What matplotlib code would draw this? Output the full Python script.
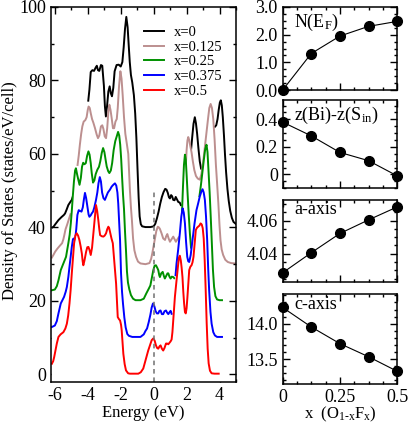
import numpy as np
from matplotlib import pyplot as plt
from matplotlib.ticker import MultipleLocator

nan = np.nan

# ---- DOS curves, nan = hidden segment ----
e_x0 = [-6.15, -6.08, -5.95, -5.78, -5.6, -5.45, -5.38, -5.28, -5.18, -5.05, -4.97, -4.88, nan,
        -3.97, -3.9, -3.82, -3.72, -3.62, -3.52, -3.45, -3.38, -3.3, -3.2, -3.12, -3.02, -2.96, -2.9,
        -2.83, -2.75, -2.67, -2.6, -2.53, -2.45, -2.37, -2.25, -2.12, -2.0, -1.9, -1.82, -1.74, -1.66,
        -1.58, -1.52, -1.45, -1.38, -1.3, -1.2, -1.12, -1.05, -0.98, -0.91, -0.85, -0.78, -0.7, -0.5,
        -0.2, 0.0, 0.1, 0.2, 0.3, 0.4, 0.5, 0.6, 0.7, 0.78, 0.86, 0.93, 0.99, 1.06, 1.12, 1.19, 1.27,
        1.34, 1.42, 1.5, 1.58, 1.65, nan,
        2.2, 2.27, 2.34, 2.42, 2.5, 2.57, 2.64, 2.72, 2.8, 2.88, 2.95, 3.05, nan,
        3.72, 3.8, 3.88, 3.95, 4.02, 4.08, 4.14, 4.2, 4.27, 4.33, 4.4, 4.48, 4.56, 4.65, 4.75, 4.85, 4.98]
dos_x0 = [40.0, 40.2, 41.0, 42.0, 42.8, 43.4, 43.8, 44.9, 46.1, 47.0, 47.5, 48.8, nan,
          74.5, 77.5, 82.3, 82.8, 82.6, 83.5, 84.0, 82.8, 82.6, 84.2, 84.0, 78.5, 73.0, 70.2,
          73.0, 77.0, 78.4, 76.5, 75.7, 78.0, 82.5, 84.2, 84.3, 83.8, 85.0, 89.0, 94.0, 97.3,
          94.5, 90.0, 85.0, 81.5, 79.5, 76.0, 71.0, 64.5, 56.0, 48.0, 43.0, 40.9, 40.3, 40.1,
          40.1, 40.3, 41.0, 42.5, 44.3, 46.5, 48.3, 49.6, 50.5, 50.3, 49.4, 48.2, 47.9, 48.8, 48.5, 47.5, 47.4,
          48.3, 47.6, 46.9, 46.8, 46.1, nan,
          57.0, 61.0, 64.5, 68.2, 70.0, 68.3, 65.5, 61.5, 58.0, 56.0, 55.6, 56.5, nan,
          67.4, 67.8, 69.5, 72.0, 74.0, 74.6, 73.2, 70.0, 65.0, 60.0, 55.0, 50.5, 47.2, 44.5, 42.6, 41.5, 41.0]

e_x0125 = [-6.18, -6.1, -5.98, -5.85, -5.7, -5.56, -5.48, -5.42, -5.35, -5.25, -5.15, -5.05, nan,
           -4.62, -4.55, -4.48, -4.4, -4.33, -4.25, -4.15, -4.07, -4.0, -3.95, -3.88, -3.82, -3.74, -3.66,
           -3.56, -3.46, -3.38, -3.3, -3.2, -3.12, -3.05, -2.97, -2.89, -2.82, -2.75, -2.69, -2.62, -2.55,
           -2.47, -2.4, -2.32, -2.24, -2.18, -2.1, -2.02, -1.95, -1.88, -1.8, -1.72, -1.62, -1.54, -1.49,
           -1.44, -1.38, -1.32, -1.25, -1.17, -1.07, -0.95, -0.8, -0.5, -0.25, -0.15, -0.08, 0.0, 0.08,
           0.16, 0.25, 0.32, 0.38, 0.48, 0.58, 0.69, 0.76, 0.83, 0.91, 0.99, 1.09, 1.19, 1.27, 1.35, 1.45,
           1.52, nan,
           1.96, 2.0, 2.05, 2.1, 2.16, 2.23, 2.3, 2.38, 2.47, 2.57, 2.68, 2.8, 2.9, 3.0, 3.1, 3.2, 3.3,
           3.38, 3.46, 3.54, 3.62, 3.7, 3.78, 3.86, 3.93, 4.0, 4.06, 4.13, 4.22, 4.35, 4.5, 4.7, 4.95]
dos_x0125 = [31.8, 32.4, 33.4, 34.2, 35.0, 35.7, 36.8, 38.0, 39.5, 40.8, 42.2, 43.6, nan,
             57.0, 59.5, 62.5, 65.5, 67.5, 68.8, 69.2, 70.0, 72.0, 72.9, 72.5, 71.1, 69.5, 68.5,
             67.0, 65.3, 64.3, 65.0, 67.5, 67.8, 66.8, 64.8, 64.3, 67.0, 71.5, 73.4, 72.0, 69.8,
             67.0, 67.0, 68.8, 69.5, 72.5, 78.5, 82.5, 80.5, 76.0, 70.0, 65.5, 62.5, 60.0, 55.0,
             50.0, 45.5, 42.0, 37.0, 33.8, 32.0, 30.7, 30.2, 30.0, 30.3, 31.5, 33.0, 35.0, 37.0,
             39.0, 40.2, 40.0, 39.6, 38.4, 37.0, 36.6, 37.6, 38.2, 37.0, 36.1, 36.8, 37.5, 36.8, 36.1, 36.8,
             37.3, nan,
             57.5, 61.0, 63.6, 64.6, 63.8, 62.0, 60.5, 58.0, 55.6, 54.0, 53.3, 53.0, 54.5, 57.5, 61.5, 65.5, 69.5,
             72.5, 73.6, 72.5, 69.5, 64.0, 57.0, 51.5, 46.5, 40.5, 36.5, 34.0, 32.5, 31.2, 30.6, 30.3, 30.2]

e_x025 = [-6.18, -6.0, -5.88, -5.78, -5.64, -5.48, -5.32, -5.18, -5.1, -5.03, -4.97, -4.91, -4.84,
          -4.77, -4.72, -4.65, -4.57, -4.5, -4.42, -4.35, -4.28, -4.2, -4.12, -4.04, -3.96, -3.89, -3.82,
          -3.76, -3.68, -3.6, -3.52, -3.42, -3.32, -3.24, -3.15, -3.07, -2.99, -2.92, -2.85, -2.76, -2.69,
          -2.6, -2.52, -2.43, -2.33, -2.24, -2.16, -2.09, -2.03, -1.97, -1.92, -1.86, -1.8, -1.74, -1.68,
          -1.62, -1.56, -1.48, -1.38, -1.25, -1.1, -0.8, -0.6, -0.45, -0.3, -0.2, -0.1, -0.02, 0.06, 0.14,
          0.22, 0.28, 0.34, 0.38, 0.46, 0.55, 0.62, 0.68, 0.76, 0.84, 0.89, 0.96, 1.03, 1.1, 1.19, 1.25, nan,
          1.72, 1.78, 1.84, 1.9, 1.95, 2.0, 2.06, 2.13, 2.2, 2.27, nan,
          2.78, 2.87, 2.96, 3.05, 3.13, 3.21, 3.27, 3.33, 3.4, 3.47, 3.54, 3.6, 3.67, 3.75, 3.85, 4.0, 4.15]
dos_x025 = [22.9, 23.1, 24.0, 25.6, 28.4, 30.2, 32.0, 35.7, 38.0, 41.1, 44.5, 48.4, 52.5,
            55.5, 56.1, 54.5, 52.9, 51.6, 53.5, 56.5, 57.6, 57.2, 57.5, 59.5, 60.7, 59.8, 57.5,
            54.8, 52.2, 52.8, 54.5, 55.7, 56.5, 58.0, 60.3, 61.6, 60.5, 58.5, 56.6, 55.3, 54.8,
            55.5, 57.5, 61.0, 63.5, 64.8, 66.0, 65.0, 62.5, 58.5, 54.0, 49.0, 45.0, 39.0, 33.8,
            28.0, 25.0, 23.2, 21.6, 20.6, 20.2, 20.2, 20.6, 22.0, 23.3, 24.2, 26.5, 28.4, 29.6, 29.7,
            29.0, 28.4, 27.0, 26.5, 27.5, 27.9, 26.8, 26.1, 26.8, 27.5, 27.5, 26.6, 26.1, 26.6, 26.5, 26.2, nan,
            44.0, 51.0, 57.0, 59.8, 58.5, 54.5, 49.3, 43.5, 38.4, 34.5, nan,
            48.5, 51.5, 55.0, 58.5, 61.3, 62.5, 60.5, 55.5, 49.5, 42.5, 35.0, 28.5, 23.8, 21.3, 20.4, 20.2, 20.2]

e_x0375 = [-6.18, -6.0, -5.88, -5.78, -5.64, -5.44, -5.34, -5.27, -5.18, -5.11, -5.04, -4.97, -4.9,
           -4.85, -4.77, -4.7, -4.63, -4.55, -4.47, -4.38, -4.3, -4.24, -4.17, -4.1, -4.02, -3.95, -3.9,
           -3.82, -3.76, -3.68, -3.6, -3.5, -3.42, -3.35, -3.27, -3.2, -3.13, -3.05, -2.96, -2.88, -2.78,
           -2.65, -2.55, -2.45, -2.35, -2.27, -2.2, -2.15, -2.1, -2.04, -1.98, -1.92, -1.86, -1.78, -1.7,
           -1.6, -1.5, -1.3, -0.8, -0.6, -0.5, -0.4, -0.3, -0.2, -0.12, -0.04, 0.04, 0.12, 0.2, 0.28, 0.35,
           0.42, 0.5, 0.58, 0.66, 0.75, 0.82, 0.89, 0.96, 1.03, 1.09, nan,
           1.33, 1.39, 1.49, 1.59, 1.68, 1.76, 1.83, 1.9, 1.97, 2.04, 2.1, 2.16, 2.25, 2.36, 2.48, 2.6,
           2.7, 2.8, 2.9, 2.97, 3.04, 3.11, 3.18, 3.25, 3.31, 3.37, 3.45, 3.52, 3.62, 3.72, 3.85, 4.15]
dos_x0375 = [12.9, 13.3, 14.5, 16.6, 19.3, 21.1, 22.5, 23.8, 26.5, 29.3, 32.0, 34.7, 36.8,
             37.0, 36.6, 39.5, 43.4, 44.7, 44.5, 44.3, 45.5, 47.5, 49.4, 48.0, 45.6, 43.5, 42.9,
             43.3, 43.8, 44.3, 45.5, 47.5, 49.5, 52.0, 53.7, 52.5, 49.5, 48.0, 47.5, 48.4, 49.5,
             50.3, 51.1, 51.6, 52.0, 51.4, 49.5, 46.5, 42.0, 36.6, 27.5, 22.5, 19.2, 15.5, 12.8,
             11.0, 10.5, 10.2, 10.2, 10.9, 11.8, 12.5, 14.2, 16.2, 18.2, 19.3, 18.6, 17.2, 16.6, 16.6, 17.3,
             17.4, 16.4, 16.4, 17.2, 17.4, 16.8, 16.4, 16.9, 17.3, 16.5, nan,
             27.0, 30.2, 34.0, 38.4, 43.0, 45.2, 44.0, 41.1, 36.0, 32.0, 30.8, 30.6, 32.5, 36.6, 41.0, 44.7,
             46.5, 48.4, 49.8, 50.4, 49.5, 47.5, 43.0, 36.6, 29.0, 22.9, 17.0, 13.8, 11.5, 10.6, 10.2, 10.2]

e_x05 = [-6.18, -6.1, -6.04, -5.96, -5.88, -5.78, -5.65, -5.48, -5.36, -5.27, -5.19, -5.11, -5.04,
         -4.97, -4.9, -4.83, -4.75, -4.67, -4.59, -4.51, -4.43, -4.36, -4.31, -4.27, -4.2, -4.1, -4.03,
         -3.96, -3.89, -3.82, -3.74, -3.66, -3.58, -3.5, -3.43, -3.36, -3.3, -3.25, -3.15, -3.05, -2.97,
         -2.89, -2.82, -2.75, -2.7, -2.65, -2.56, -2.48, -2.41, -2.34, -2.28, -2.22, -2.18, -2.1, -2.04,
         -1.98, -1.94, -1.89, -1.84, -1.76, -1.68, -1.55, -1.44, -0.93, -0.78, -0.63, -0.53, -0.43, -0.33,
         -0.2, -0.12, -0.02, 0.06, 0.14, 0.21, 0.28, 0.35, 0.42, 0.5, 0.58, 0.66, 0.75, 0.82, 0.89, 0.96,
         1.03, 1.09, 1.14, 1.19, 1.24, 1.29, 1.34, 1.39, 1.44, 1.49, 1.54, 1.59, 1.65, 1.7, 1.75, 1.8,
         1.85, 1.9, 1.95, 2.0, 2.05, 2.1, 2.16, 2.23, 2.3, 2.36, 2.42, 2.48, 2.56, 2.63, 2.7, 2.78, 2.85,
         2.92, 2.98, 3.04, 3.1, 3.16, 3.22, 3.28, 3.34, 3.42, 3.52, 3.7, 3.95]
dos_x05 = [2.9, 3.6, 4.7, 6.5, 8.4, 10.2, 10.9, 11.5, 12.5, 13.8, 16.0, 19.3, 23.0,
           27.5, 31.5, 35.7, 37.8, 38.4, 37.8, 36.6, 34.8, 32.9, 30.8, 29.7, 31.0, 33.4, 34.6,
           34.7, 33.8, 32.5, 34.5, 38.4, 42.5, 46.1, 44.5, 42.0, 39.5, 37.9, 37.6, 37.5, 37.8,
           38.4, 39.5, 40.2, 39.8, 38.8, 37.0, 35.7, 32.0, 28.0, 24.7, 19.5, 15.6, 15.0, 14.7,
           13.5, 12.0, 8.8, 5.6, 2.8, 1.1, 0.3, 0.2, 0.2, 0.6, 1.6, 3.2, 4.8, 6.5,
           8.2, 9.3, 9.8, 9.2, 7.9, 7.2, 7.0, 7.6, 7.9, 7.0, 6.5, 7.2, 8.4, 8.4, 8.2, 8.6,
           9.0, 9.5, 11.5, 14.7, 18.0, 21.1, 23.5, 25.6, 27.8, 30.0, 31.8, 32.3, 31.0, 29.0, 26.5, 22.5,
           19.3, 17.0, 16.6, 18.0, 21.0, 24.5, 28.4, 29.3, 29.7, 30.5, 32.0, 35.0, 39.3, 39.9, 40.2, 40.5, 41.1,
           40.8, 39.8, 37.0, 31.0, 23.0, 14.0, 7.0, 3.0, 1.0, 0.3, 0.2, 0.2]

series_labels = ["x=0", "x=0.125", "x=0.25", "x=0.375", "x=0.5"]
series_colors = ["black", "#bc8f8f", "#009000", "#0000ff", "#ff0000"]

# ---- right-hand panels ----
x_frac = [0, 0.125, 0.25, 0.375, 0.5]
n_ef = [0.0, 1.32, 1.95, 2.3, 2.48]
dz = [0.38, 0.28, 0.16, 0.10, -0.01]
a_axis = [4.0285, 4.0406, 4.0522, 4.0604, 4.0682]
c_axis = [14.23, 13.955, 13.72, 13.535, 13.33]

plt.rcParams['font.family'] = 'Liberation Serif'
plt.rcParams['mathtext.fontset'] = 'custom'
plt.rcParams['mathtext.rm'] = 'Liberation Serif'
plt.rcParams['mathtext.it'] = 'Liberation Serif:italic'
plt.rcParams['axes.unicode_minus'] = False
plt.rcParams['axes.linewidth'] = 1.1


def style_ticks(ax, size=13):
    ax.tick_params(which='both', direction='in', top=True, right=True, labelsize=size, width=1.0)
    ax.tick_params(which='major', length=5)
    ax.tick_params(which='minor', length=2.5)


fig = plt.figure(figsize=(4.09, 4.23), dpi=100)

# DOS panel
ax = fig.add_axes([0.124, 0.0975, 0.453, 0.886])
curves = [(e_x0, dos_x0), (e_x0125, dos_x0125), (e_x025, dos_x025), (e_x0375, dos_x0375), (e_x05, dos_x05)]
for i, ((e, d), col, lab) in enumerate(zip(curves, series_colors, series_labels)):
    e = np.array(e, dtype=float)
    d = np.array(d, dtype=float)
    ax.fill_between(e, d, -5, color='white', lw=0, zorder=1 + i * 0.2)
    ax.plot(e, d, color=col, lw=1.4, label=lab, zorder=1.1 + i * 0.2)
ax.plot([0, 0], [-2, 50], color='#707070', lw=1.1, ls=(0, (3, 2.5)), zorder=2.2)
ax.set_xlim(-6.25, 5)
ax.set_ylim(-2, 100)
ax.xaxis.set_major_locator(MultipleLocator(2))
ax.xaxis.set_minor_locator(MultipleLocator(1))
ax.yaxis.set_major_locator(MultipleLocator(20))
ax.yaxis.set_minor_locator(MultipleLocator(10))
style_ticks(ax)
ax.set_xlabel("Energy (eV)", fontsize=12, labelpad=1)
ax.set_ylabel("Density of States (states/eV/cell)", fontsize=12)
ax.yaxis.set_label_coords(-0.175, 0.51)
ax.legend(loc='upper left', bbox_to_anchor=(0.47, 0.965), frameon=False, fontsize=10.5,
          handlelength=1.4, handletextpad=0.7, labelspacing=0.1, borderaxespad=0)

# right panels
panels = [
    ([0.691, 0.787, 0.28, 0.1965], n_ef, (0, 3), 1.0, 0.25, "N(E$_{\\rm F}$)", ["0.0", "1.0", "2.0", "3.0"]),
    ([0.691, 0.555, 0.28, 0.2085], dz, (-0.1, 0.54), 0.2, 0.05, "z(Bi)-z(S$_{\\rm in}$)", None),
    ([0.691, 0.3335, 0.28, 0.1937], a_axis, (4.023, 4.0724), 0.02, 0.005, "a-axis", None),
    ([0.691, 0.0915, 0.28, 0.2135], c_axis, (13.146, 14.42), 0.5, 0.1, "c-axis", None),
]
for k, (rect, vals, ylim, major, minor, title, labels) in enumerate(panels):
    axr = fig.add_axes(rect)
    axr.plot(x_frac, vals, color='black', lw=0.8, marker='o', ms=7, clip_on=False, zorder=3)
    axr.set_xlim(0, 0.5)
    axr.set_ylim(*ylim)
    axr.xaxis.set_major_locator(MultipleLocator(0.25))
    axr.xaxis.set_minor_locator(MultipleLocator(0.0625))
    axr.yaxis.set_major_locator(MultipleLocator(major))
    axr.yaxis.set_minor_locator(MultipleLocator(minor))
    style_ticks(axr)
    if labels is not None:
        axr.set_yticks([0, 1, 2, 3])
        axr.set_yticklabels(labels)
    if k == 1:
        axr.set_yticks([0, 0.2, 0.4])
        axr.set_yticklabels(["0", "0.2", "0.4"])
    if k == 2:
        axr.set_yticks([4.04, 4.06])
        axr.set_yticklabels(["4.04", "4.06"])
    if k == 3:
        axr.set_yticks([13.5, 14.0])
        axr.set_yticklabels(["13.5", "14.0"])
        axr.set_xticks([0, 0.25, 0.5])
        axr.set_xticklabels(["0", "0.25", "0.5"])
        axr.set_xlabel("x  (O$_{\\rm 1\\text{-}x}$F$_{\\rm x}$)", fontsize=12, labelpad=-1)
    else:
        axr.tick_params(labelbottom=False)
    axr.text(0.1, 0.82 if k < 2 else 0.88, title, transform=axr.transAxes, fontsize=13, va='center', ha='left')

fig.savefig("out.png", dpi=100)
